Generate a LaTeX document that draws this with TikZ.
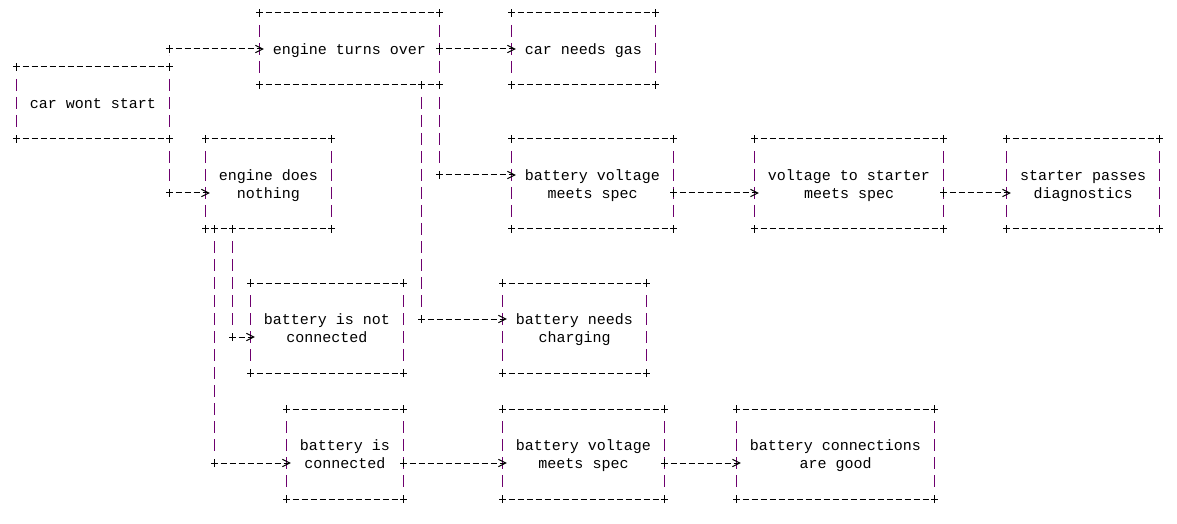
\documentclass[tikz,border=0pt]{standalone}
\usepackage{fontspec}
\newfontfamily\asciifont{Liberation Mono}
\usetikzlibrary{arrows.meta}
\definecolor{pipe}{RGB}{110,0,110}
\newcommand\boxstrut{\rule[-2.775pt]{0pt}{13.5pt}}
\newcommand\twolines[2]{\vbox{\halign{\hfil##\hfil\cr\boxstrut#1\cr\boxstrut#2\cr}}}
\begin{document}
\begin{tikzpicture}[x=6.75pt,y=-13.5pt,line width=.75pt,
box/.style={inner sep=0pt,outer sep=0pt,font=\fontsize{11.25}{13.5}\asciifont,execute at begin node=\boxstrut},
cells/.style 2 args={minimum width=#1*6.75pt,minimum height=#2*13.5pt},
hdash/.style={dash pattern=on 4.5pt off 2.25pt,dash phase=2.25pt},
vdash/.style={draw=pipe,dash pattern=on 9pt off 4.5pt,dash phase=9pt,shorten <=4.5pt,shorten >=4.5pt},
link/.style={hdash,-{Straight Barb[length=5.5pt,width=5.5pt]},shorten >=-3.3pt},
crossmark/.pic={\draw(-2.625pt,0)--(2.625pt,0)(0,-3pt)--(0,3pt);}]
\useasboundingbox(-1.8333,-.7222)rectangle(128.9444,28.3889);
\node[box,cells={17}{4}](cws)at(8.5,5){car wont start};
\node[box,cells={20}{4}](eto)at(37,2){engine turns over};
\node[box,cells={16}{4}](gas)at(63,2){car needs gas};
\node[box,cells={14}{5}](edn)at(28,9.5){\twolines{engine does}{nothing}};
\node[box,cells={18}{5}](bvs)at(64,9.5){\twolines{battery voltage}{meets spec}};
\node[box,cells={21}{5}](vts)at(92.5,9.5){\twolines{voltage to starter}{meets spec}};
\node[box,cells={17}{5}](spd)at(118.5,9.5){\twolines{starter passes}{diagnostics}};
\node[box,cells={17}{5}](bnc)at(34.5,17.5){\twolines{battery is not}{connected}};
\node[box,cells={16}{5}](bch)at(62,17.5){\twolines{battery needs}{charging}};
\node[box,cells={13}{5}](bic)at(36.5,24.5){\twolines{battery is}{connected}};
\node[box,cells={18}{5}](bvm)at(63,24.5){\twolines{battery voltage}{meets spec}};
\node[box,cells={22}{5}](bcg)at(91,24.5){\twolines{battery connections}{are good}};
\foreach\n in{cws,eto,gas,edn,bvs,vts,spd,bnc,bch,bic,bvm,bcg}{
\draw[hdash](\n.north west)--(\n.north east)(\n.south west)--(\n.south east);
\draw[vdash](\n.north west)--(\n.south west);
\draw[vdash](\n.north east)--(\n.south east);}
\coordinate(a1)at(cws.north east|-eto.west);
\coordinate(b0)at(eto.east);
\coordinate(c1)at(17,10);
\coordinate(d1)at(47,9);
\coordinate(e0)at([xshift=-13.5pt]eto.south east);
\coordinate(e1)at(45,17);
\coordinate(f0)at([yshift=-6.75pt]bvs.east);
\coordinate(g0)at([yshift=-6.75pt]vts.east);
\coordinate(h0)at([xshift=20.25pt]edn.south west);
\coordinate(h1)at(24,18);
\coordinate(i0)at([xshift=6.75pt]edn.south west);
\coordinate(i1)at(22,25);
\coordinate(j0)at([yshift=-6.75pt]bic.east);
\coordinate(k0)at([yshift=-6.75pt]bvm.east);
\draw[vdash](cws.north east)--(a1);\draw[link](a1)--(eto.west);
\draw[link](b0)--(gas.west);
\draw[vdash](cws.south east)--(c1);\draw[link](c1)--(c1-|edn.west);
\draw[vdash](eto.south east)--(d1);\draw[link](d1)--(d1-|bvs.west);
\draw[vdash](e0)--(e1);\draw[link](e1)--(e1-|bch.west);
\draw[link](f0)--(f0-|vts.west);
\draw[link](g0)--(g0-|spd.west);
\draw[vdash](h0)--(h1);\draw[link](h1)--(h1-|bnc.west);
\draw[vdash](i0)--(i1);\draw[link](i1)--(i1-|bic.west);
\draw[link](j0)--(j0-|bvm.west);
\draw[link](k0)--(k0-|bcg.west);
\foreach\n in{cws,eto,gas,edn,bvs,vts,spd,bnc,bch,bic,bvm,bcg}{
\foreach\c in{north west,north east,south west,south east}\pic at(\n.\c){crossmark};}
\foreach\p in{a1,b0,c1,d1,e0,e1,f0,g0,h0,h1,i0,i1,j0,k0}\pic at(\p){crossmark};
\end{tikzpicture}
\end{document}
